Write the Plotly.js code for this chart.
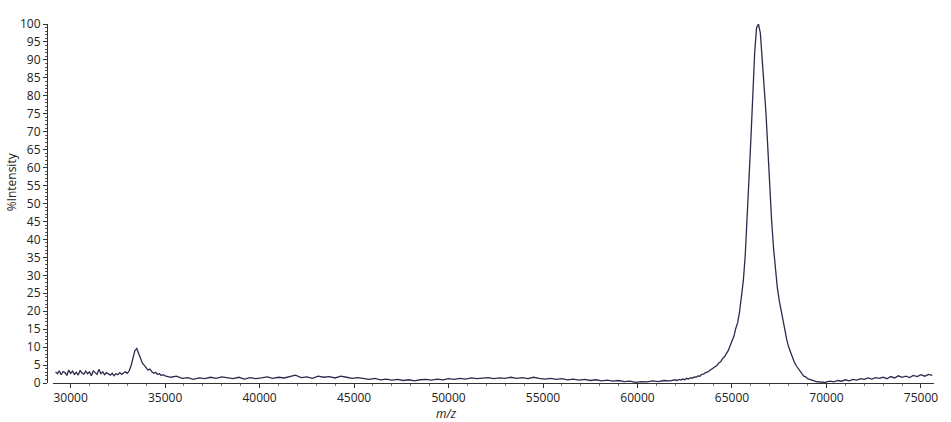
<!DOCTYPE html>
<html>
<head>
<meta charset="utf-8">
<script src="https://cdn.plot.ly/plotly-3.0.1.min.js"></script>
<style>
  html, body { margin: 0; padding: 0; background: #fff; }
  #spec { width: 951px; height: 422px; }
</style>
</head>
<body>
<div id="spec"></div>
<script>
// ------------------------------------------------------------
// data
// ------------------------------------------------------------

// 29200 - 33000 : noisy baseline
const mzBase = [29200,29300,29400,29500,29600,29700,29800,29900,30000,30100,30200,30300,30400,30500,30600,30700,30800,30900,31000,31100,31200,31300,31400,31500,31600,31700,31800,31900,32000,32100,32200,32300,32400,32500,32600,32700,32800,32900,33000]
const intBase = [3.1,2.6,3.4,2.3,3.2,2.9,2.1,3.6,2.7,3.3,2.4,3.0,2.2,3.5,2.8,2.5,3.3,2.6,3.1,2.0,3.4,2.9,2.4,3.8,2.6,3.1,2.3,2.9,2.5,2.2,2.7,2.0,2.6,2.3,2.9,2.4,2.8,3.1,2.7]

// small peak around 33.5k
const mzSmall = [33100,33200,33300,33400,33500,33600,33700,33800,33900,34000,34100,34200,34300,34400,34500,34600,34700,34800,34900]
const intSmall = [3.4,4.8,7.2,9.0,9.6,8.1,6.6,5.5,4.9,4.2,3.6,3.9,3.1,2.7,3.0,2.4,2.6,2.1,2.3]

// 35000 - 62000 : flat region
const mzFlat = [35000,35300,35600,35900,36200,36500,36800,37100,37400,37700,38000,38300,38600,38900,39200,39500,39800,40100,40400,40700,41000,41300,41600,41900,42200,42500,42800,43100,43400,43700,44000,44300,44600,44900,45200,45500,45800,46100,46400,46700,47000,47300,47600,47900,48200,48500,48800,49100,49400,49700,50000,50300,50600,50900,51200,51500,51800,52100,52400,52700,53000,53300,53600,53900,54200,54500,54800,55100,55400,55700,56000,56300,56600,56900,57200,57500,57800,58100,58400,58700,59000,59300,59600,59900,60200,60500,60800,61100,61400,61700,62000]
const intFlat = [2.0,1.6,1.9,1.3,1.5,1.0,1.4,1.2,1.6,1.3,1.7,1.4,1.2,1.6,1.1,1.5,1.2,1.4,1.7,1.3,1.6,1.4,1.8,2.2,1.5,1.7,1.3,1.9,1.6,1.8,1.4,1.9,1.6,1.3,1.5,1.2,1.0,1.3,0.9,1.1,0.8,1.0,0.7,0.9,0.6,0.9,1.0,0.8,1.1,0.9,1.2,1.0,1.3,1.1,1.4,1.2,1.3,1.5,1.2,1.4,1.3,1.6,1.3,1.5,1.2,1.6,1.3,1.1,1.3,1.0,1.2,0.9,1.1,0.8,1.0,0.7,0.9,0.6,0.8,0.5,0.7,0.4,0.5,0.2,0.4,0.3,0.6,0.4,0.7,0.6,0.9]

// main peak around 66.4k
const mzMain = [62100,62200,62300,62400,62500,62600,62700,62800,62900,63000,63100,63200,63300,63400,63500,63600,63700,63800,63900,64000,64100,64200,64300,64400,64500,64600,64700,64800,64900,65000,65100,65200,65300,65400,65500,65600,65700,65800,65900,66000,66100,66200,66300,66400,66500,66600,66700,66800,66900,67000,67100,67200,67300,67400,67500,67600,67700,67800,67900,68000,68100,68200,68300,68400,68500,68600,68700,68800,68900,69000,69100,69200,69300,69400,69500,69600,69700,69800,69900,70000]
const intMain = [0.7,1.0,0.8,1.1,0.9,1.3,1.1,1.5,1.3,1.7,1.6,2.0,1.9,2.4,2.5,2.9,3.0,3.4,3.8,4.0,4.6,4.9,5.6,5.9,6.8,7.3,8.2,9.0,10.4,11.5,13.0,15.2,16.8,19.8,23.5,28.5,35.5,45.0,57.0,68.0,82.0,92.0,99.0,100,97.5,90.0,84.0,75.0,65.0,54.0,45.0,37.5,31.5,26.5,23.0,20.0,18.0,14.5,12.0,10.0,8.5,6.8,5.8,4.8,4.0,3.1,2.6,1.9,1.7,1.2,1.0,0.8,0.6,0.5,0.3,0.4,0.2,0.3,0.1,0.3]

// 70200 - 75600 : tail
const mzTail = [70200,70400,70600,70800,71000,71200,71400,71600,71800,72000,72200,72400,72600,72800,73000,73200,73400,73600,73800,74000,74200,74400,74600,74800,75000,75200,75400,75600]
const intTail = [0.5,0.3,0.7,0.5,0.9,0.6,1.0,0.8,1.2,1.0,1.4,1.1,1.5,1.3,1.6,1.2,1.8,1.4,2.0,1.6,1.9,1.5,2.1,1.8,2.3,1.9,2.4,2.1]

const xTitle = 'm/z'
const yTitle = '%Intensity'

// ------------------------------------------------------------
// draw
// ------------------------------------------------------------

const mz = [].concat(mzBase, mzSmall, mzFlat, mzMain, mzTail)
const intensity = [].concat(intBase, intSmall, intFlat, intMain, intTail)

const trace = {
    x: mz,
    y: intensity,
    type: 'scatter',
    mode: 'lines',
    line: { color: '#2b2b4e', width: 1.3 },
    hoverinfo: 'skip'
}

const labelFont = { family: 'Open Sans, Noto Sans, sans-serif', size: 12, color: '#222' }

const layout = {
    width: 951,
    height: 422,
    margin: { l: 47, r: 17, t: 24, b: 39 },
    paper_bgcolor: '#fff',
    plot_bgcolor: '#fff',
    showlegend: false,
    xaxis: {
        range: [29070, 75690],
        domain: [0.0068, 1],
        showgrid: false,
        zeroline: false,
        showline: true,
        linecolor: '#333',
        linewidth: 1,
        ticks: 'outside',
        ticklen: 4,
        tickcolor: '#333',
        tick0: 30000,
        dtick: 5000,
        tickformat: 'd',
        tickfont: labelFont,
        minor: { dtick: 1000, ticklen: 2, tickcolor: '#777', ticks: 'outside' }
    },
    yaxis: {
        range: [0, 100],
        anchor: 'free',
        position: 0,
        showgrid: false,
        zeroline: false,
        showline: true,
        linecolor: '#333',
        linewidth: 1,
        ticks: 'outside',
        ticklen: 4,
        tickcolor: '#333',
        dtick: 5,
        tickfont: labelFont,
        minor: { dtick: 1, ticklen: 2, tickcolor: '#555', ticks: 'outside' }
    },
    // axis titles placed by hand, they sit off-centre in the original
    annotations: [
        {
            text: '<i>' + xTitle + '</i>',
            xref: 'paper', yref: 'paper',
            x: 0.45, y: -0.085,
            xanchor: 'center', yanchor: 'middle',
            showarrow: false,
            font: labelFont
        },
        {
            text: yTitle,
            xref: 'paper', yref: 'paper',
            x: -0.039, y: 0.56,
            xanchor: 'center', yanchor: 'middle',
            textangle: -90,
            showarrow: false,
            font: labelFont
        }
    ]
}

Plotly.newPlot('spec', [trace], layout, { displayModeBar: false, staticPlot: true })
</script>
</body>
</html>
